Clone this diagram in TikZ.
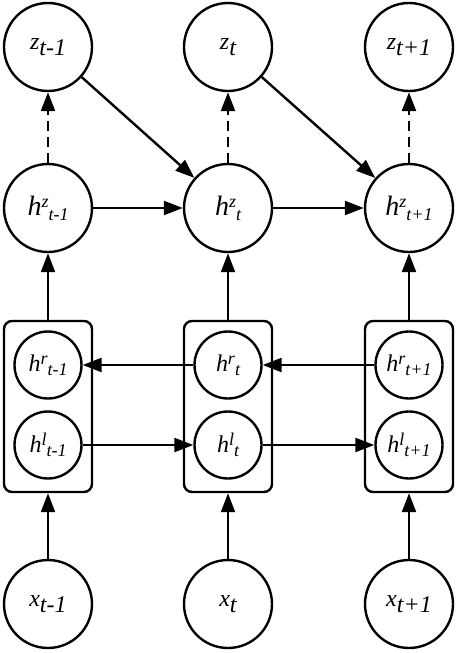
\documentclass[tikz,border=0pt]{standalone}
\usepackage{fontspec}
\setmainfont{Liberation Serif}[ItalicFont={Liberation Serif Italic}]
\usetikzlibrary{arrows.meta}
\newcommand{\ZN}[2]{{\fontsize{24}{24}\selectfont\itshape #1\raisebox{-6pt}{#2}}}
\newcommand{\HZN}[2]{{\fontsize{28}{28}\selectfont\itshape h}{\fontsize{18}{18}\selectfont\itshape\raisebox{8pt}{#1}\raisebox{-5pt}{#2}}}
\newcommand{\HIN}[2]{{\fontsize{24}{24}\selectfont\itshape h}{\fontsize{18}{18}\selectfont\itshape\raisebox{7pt}{#1}\raisebox{-4pt}{#2}}}
\tikzset{
  big/.style={circle, draw, line width=2.4pt, minimum size=88pt, inner sep=0pt},
  small/.style={circle, draw, line width=2.4pt, minimum size=67pt, inner sep=0pt},
  boxnode/.style={rectangle, draw, line width=2.4pt, rounded corners=8pt, minimum width=88pt, minimum height=171pt, inner sep=0pt},
  arr/.style={line width=2.4pt, -{Triangle[length=19pt,width=14pt]}},
  darr/.style={arr, dash pattern=on 10pt off 6pt}
}
\begin{document}
\begin{tikzpicture}[x=1pt,y=-1pt]
\useasboundingbox (0,0) rectangle (457,653);
% boxes
\node[boxnode] (b1) at (48,406.5) {};
\node[boxnode] (b2) at (228,406.5) {};
\node[boxnode] (b3) at (409,406.5) {};
% z row
\node[big] (z1) at (48,47) {\ZN{z}{t-1}};
\node[big] (z2) at (228,47) {\ZN{z}{t}};
\node[big] (z3) at (409,47) {\ZN{z}{t+1}};
% hz row
\node[big] (hz1) at (48,208) {\HZN{z}{t-1}};
\node[big] (hz2) at (228,208) {\HZN{z}{t}};
\node[big] (hz3) at (409,208) {\HZN{z}{t+1}};
% inner nodes
\node[small] (r1) at (48,365) {\HIN{r}{t-1}};
\node[small] (r2) at (228,365) {\HIN{r}{t}};
\node[small] (r3) at (409,365) {\HIN{r}{t+1}};
\node[small] (l1) at (48,445) {\HIN{l}{t-1}};
\node[small] (l2) at (228,445) {\HIN{l}{t}};
\node[small] (l3) at (409,445) {\HIN{l}{t+1}};
% x row
\node[big] (x1) at (48,604) {\ZN{x}{t-1}};
\node[big] (x2) at (228,604) {\ZN{x}{t}};
\node[big] (x3) at (409,604) {\ZN{x}{t+1}};
% arrows
\draw[darr] (hz1) -- (z1);
\draw[darr] (hz2) -- (z2);
\draw[darr] (hz3) -- (z3);
\draw[arr] (z1) -- (hz2);
\draw[arr] (z2) -- (hz3);
\draw[arr] (hz1) -- (hz2);
\draw[arr] (hz2) -- (hz3);
\draw[arr] (b1) -- (hz1);
\draw[arr] (b2) -- (hz2);
\draw[arr] (b3) -- (hz3);
\draw[arr] (r2) -- (r1);
\draw[arr] (r3) -- (r2);
\draw[arr] (l1) -- (l2);
\draw[arr] (l2) -- (l3);
\draw[arr] (x1) -- (b1);
\draw[arr] (x2) -- (b2);
\draw[arr] (x3) -- (b3);
\end{tikzpicture}
\end{document}
